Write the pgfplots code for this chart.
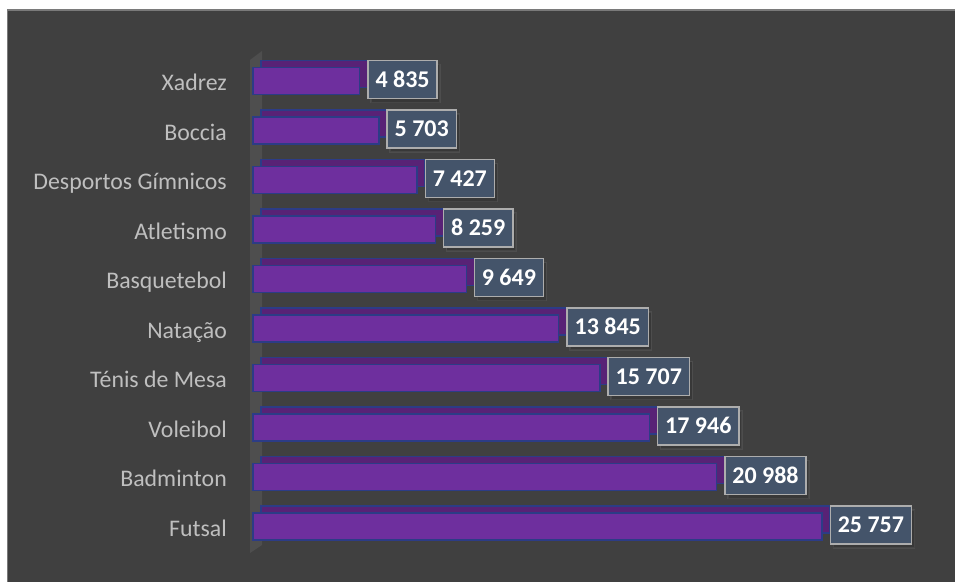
\documentclass[border=0pt]{standalone}
\usepackage{pgfplots}
\pgfplotsset{compat=1.18}
\usepackage{pgfplotstable}
\usepackage{fontspec}
\setmainfont{Carlito}
\usetikzlibrary{shadows}
\definecolor{bgc}{HTML}{404040}
\definecolor{brdc}{HTML}{7A7A7A}
\definecolor{wallc}{HTML}{4E4E4E}
\definecolor{frontc}{HTML}{6E2F9E}
\definecolor{topc}{HTML}{582276}
\definecolor{outc}{HTML}{2C3C86}
\definecolor{boxc}{HTML}{44546A}
\definecolor{boxb}{HTML}{ADADAD}
\definecolor{labc}{HTML}{BFBFBF}
\pgfplotstableread{
y v
0 25757
1 20988
2 17946
3 15707
4 13845
5 9649
6 8259
7 7427
8 5703
9 4835
}\datatab
\begin{document}
\begin{tikzpicture}
\useasboundingbox (-253pt,-29.75pt) rectangle (702pt,551.25pt);
\fill[white] (-253pt,-29.75pt) rectangle (702pt,551.25pt);
\filldraw[fill=bgc, draw=brdc, line width=1.5pt] (-245.5pt,-34.75pt) rectangle (709pt,541.25pt);
\fill[wallc] (-3pt,-1.75pt) -- (-3pt,491.25pt) -- (9pt,500.25pt) -- (9pt,6.25pt) -- cycle;
\begin{axis}[
  scale only axis, width=569pt, height=495pt,
  xmin=0, xmax=25757, ymin=-0.5, ymax=9.5,
  clip=false,
  axis line style={draw=none},
  major tick length=0pt,
  xtick=\empty,
  ytick={0,...,9},
  yticklabels={Futsal,Badminton,Voleibol,Ténis de Mesa,Natação,Basquetebol,Atletismo,Desportos Gímnicos,Boccia,Xadrez},
  yticklabel style={font=\fontsize{23.8}{28}\selectfont, text=labc, anchor=east, inner sep=0pt, xshift=-26pt, text height=19pt, text depth=0pt},
]
\addplot[xbar, bar shift=0pt, bar width=27pt, fill=topc, draw=outc, line width=1.2pt, xshift=8pt, yshift=7pt]
  table[x=v, y=y] {\datatab};
\addplot[xbar, bar shift=0pt, bar width=27pt, fill=frontc, draw=outc, line width=1.2pt,
  point meta=x,
  nodes near coords={\pgfmathprintnumber[assume math mode=true, fixed, precision=0, 1000 sep={\ }]{\pgfplotspointmeta}},
  nodes near coords align={horizontal},
  every node near coord/.style={anchor=west, xshift=7.5pt, yshift=1.5pt, fill=boxc, draw=boxb, line width=1.5pt, text=white,
    font=\bfseries\fontsize{24}{28}\selectfont, inner xsep=7.5pt, inner ysep=0pt, minimum height=38pt,
    text height=15.3pt, text depth=0pt,
    drop shadow={shadow xshift=3pt, shadow yshift=-4pt, fill=black, opacity=0.12}},
]
  table[x=v, y=y] {\datatab};
\end{axis}
\end{tikzpicture}
\end{document}
